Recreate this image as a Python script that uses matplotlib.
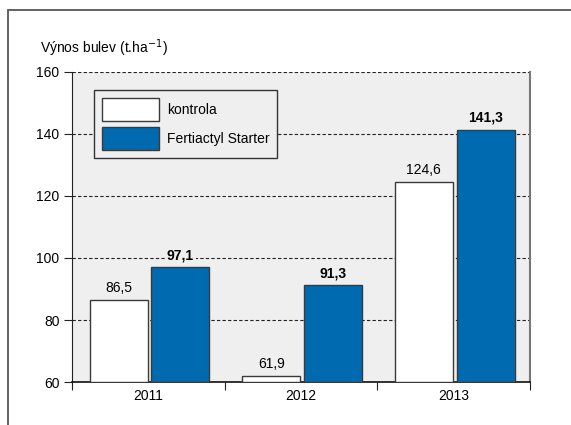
import matplotlib.pyplot as plt
import matplotlib.patches as mpatches
import numpy as np

plt.rcParams['font.family'] = ['Liberation Sans', 'DejaVu Sans']

years = ['2011', '2012', '2013']
kontrola = [86.5, 61.9, 124.6]
fertiactyl = [97.1, 91.3, 141.3]
series_names = ['kontrola', 'Fertiactyl Starter']

blue = '#006AB0'
bg = '#EEEFEE'
edge = '#3a3a3a'
fs = 10

fig = plt.figure(figsize=(5.71, 4.25), dpi=100)
ax = fig.add_axes([0.126, 0.101, 0.802, 0.730])

# frame round the whole picture
fig.patches.append(mpatches.Rectangle((8/571, -0.01), 1.0, (425-10)/425 + 0.01,
                                      transform=fig.transFigure, fill=False,
                                      edgecolor='#555555', linewidth=1.3))

x = np.arange(len(years))
w = 0.38
off1, off2 = -0.195, 0.21
ax.bar(x + off1, np.array(kontrola) - 60, w, bottom=60, color='white',
       edgecolor=edge, linewidth=1.0, label=series_names[0], zorder=3)
ax.bar(x + off2, np.array(fertiactyl) - 60, w, bottom=60, color=blue,
       edgecolor=edge, linewidth=1.0, label=series_names[1], zorder=3)

for xi, v in zip(x, kontrola):
    ax.text(xi + off1, v + 1.6, f'{v:.1f}'.replace('.', ','), ha='center', va='bottom',
            fontsize=fs, zorder=4)
for xi, v in zip(x, fertiactyl):
    ax.text(xi + off2, v + 1.6, f'{v:.1f}'.replace('.', ','), ha='center', va='bottom',
            fontsize=fs, fontweight='bold', zorder=4,
            bbox=dict(facecolor=bg, edgecolor='none', pad=1.5))

ax.set_xlim(-0.5, 2.5)
ax.set_ylim(60, 160)
ax.set_facecolor(bg)
ax.set_yticks([60, 80, 100, 120, 140, 160])
ax.set_yticklabels(['60', '80', '100', '120', '140', '160'], fontsize=fs)
ax.yaxis.grid(True, linestyle=(0, (3, 2)), color='#222222', linewidth=0.8, zorder=1)
ax.set_axisbelow(True)

ax.set_xticks([-0.5, 0.5, 1.5, 2.5])
ax.set_xticklabels([])
ax.set_xticks(x, minor=True)
ax.set_xticklabels(years, minor=True, fontsize=fs)
ax.tick_params(axis='x', which='minor', length=0, pad=5)
ax.tick_params(axis='x', which='major', length=6, direction='out', color='#222222')
ax.tick_params(axis='y', length=6, direction='out', color='#222222', pad=3)

ax.spines['top'].set_visible(False)
ax.spines['right'].set_color('#777777')
ax.spines['right'].set_linewidth(1.5)
ax.spines['left'].set_color('#222222')
ax.spines['bottom'].set_color('#111111')
ax.spines['bottom'].set_linewidth(1.2)

fig.text(40/571, 1 - 48/425, 'Výnos bulev (t.ha$^{-1}$)', fontsize=fs, va='center', ha='left')

leg = ax.legend(loc='upper left', bbox_to_anchor=(0.048, 0.94), fontsize=fs,
                handlelength=4.1, handleheight=2.2, borderpad=0.55, labelspacing=0.4,
                handletextpad=0.6, borderaxespad=0, fancybox=False, framealpha=1,
                facecolor=bg, edgecolor='#333333')
leg.get_frame().set_linewidth(1.0)

fig.savefig('out.png', dpi=100)
